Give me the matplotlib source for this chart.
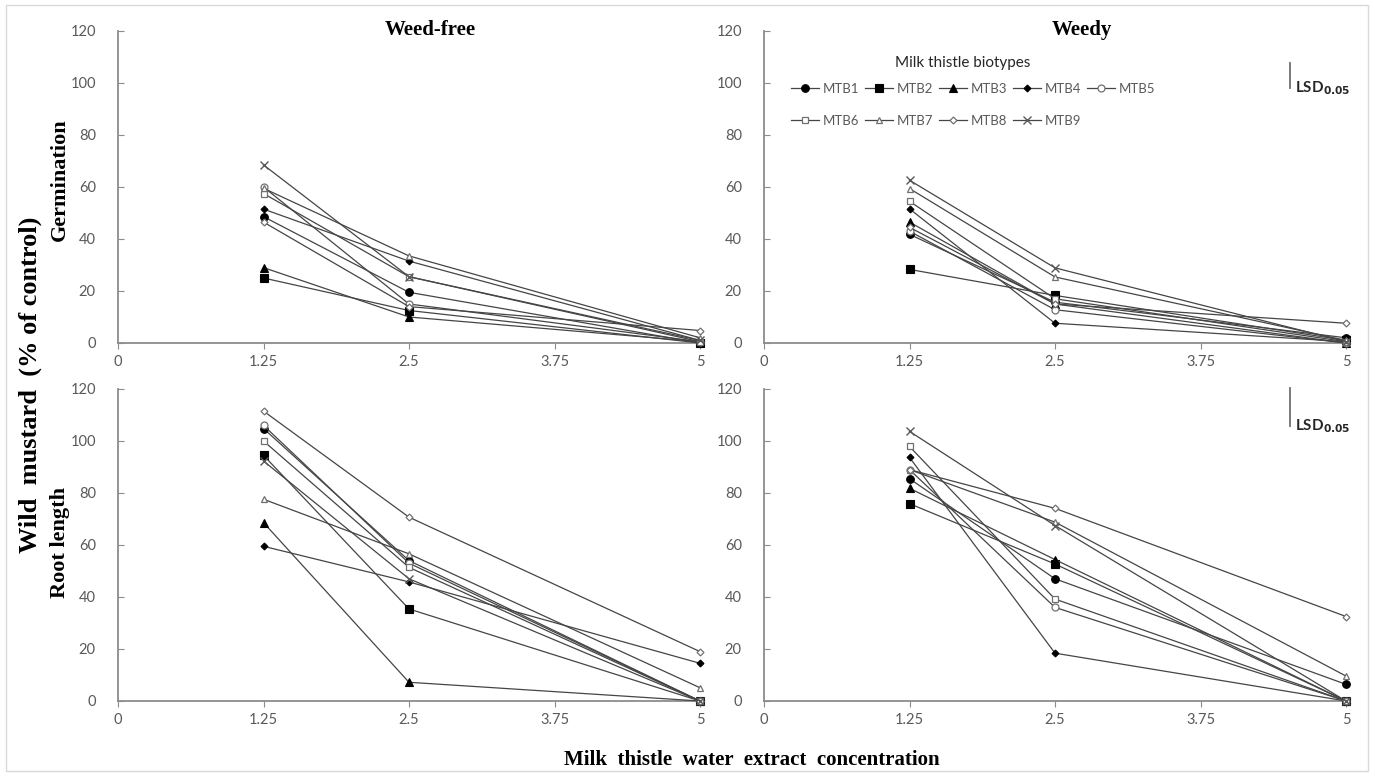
import numpy as np
import matplotlib
matplotlib.use("Agg")
import matplotlib.pyplot as plt
from matplotlib.patches import Rectangle

# concentrations (x) and biotypes
conc = [1.25, 2.5, 5]
biotypes = ["MTB1", "MTB2", "MTB3", "MTB4", "MTB5", "MTB6", "MTB7", "MTB8", "MTB9"]

# germination (% of control), weed-free
germ_free = [
    [48.6, 19.5, 0.0],
    [25.0, 12.5, 0.0],
    [29.0, 10.0, 0.5],
    [51.5, 31.5, 1.0],
    [60.0, 15.0, 0.5],
    [57.5, 25.5, 0.5],
    [59.5, 33.5, 2.0],
    [46.5, 14.0, 4.8],
    [68.5, 25.5, 1.0],
]
# germination (% of control), weedy
germ_weedy = [
    [41.8, 15.7, 2.0],
    [28.3, 18.3, 1.0],
    [46.5, 15.0, 0.0],
    [51.6, 7.6, 0.5],
    [43.0, 12.8, 0.0],
    [54.5, 17.0, 0.5],
    [59.4, 25.4, 1.0],
    [44.5, 15.0, 7.6],
    [62.6, 28.9, 0.5],
]
# root length (% of control), weed-free
root_free = [
    [104.8, 54.0, 0.0],
    [94.5, 35.4, 0.0],
    [68.6, 7.2, 0.0],
    [59.5, 45.8, 14.5],
    [106.0, 53.0, 0.0],
    [100.0, 51.4, 0.0],
    [77.6, 56.6, 5.1],
    [111.5, 70.7, 19.0],
    [92.3, 47.0, 0.0],
]
# root length (% of control), weedy
root_weedy = [
    [85.5, 47.0, 6.4],
    [75.9, 52.7, 0.0],
    [81.8, 54.4, 0.0],
    [93.7, 18.4, 0.0],
    [89.0, 36.0, 0.0],
    [97.9, 39.2, 0.0],
    [89.0, 68.8, 9.6],
    [89.0, 74.1, 32.5],
    [103.7, 67.5, 0.0],
]
# LSD 0.05 values for the weedy panels
lsd_germ = 9.6
lsd_root = 14.7

xticks = [0, 1.25, 2.5, 3.75, 5]
xtick_labels = ["0", "1.25", "2.5", "3.75", "5"]
yticks = [0, 20, 40, 60, 80, 100, 120]

# marker styles: (marker, filled, size)
styles = [("o", True, 5.5), ("s", True, 5.5), ("^", True, 5.5), ("D", True, 3.5),
          ("o", False, 5), ("s", False, 5), ("^", False, 5), ("D", False, 3.5), ("x", False, 6)]

tick_font = ["Lato", "DejaVu Sans"]
serif = "Liberation Serif"
gray_txt = "#595959"
line_col = "#454545"

fig = plt.figure(figsize=(13.75, 7.78), dpi=100)
fig.patches.append(Rectangle((0.0045, 0.009), 0.9905, 0.984, transform=fig.transFigure,
                             fill=False, edgecolor="#d9d9d9", lw=1))

W = 582 / 1375
H = 312 / 778
pos = {
    "tl": [118 / 1375, 1 - 343 / 778, W, H],
    "tr": [764 / 1375, 1 - 343 / 778, W, H],
    "bl": [118 / 1375, 1 - 701 / 778, W, H],
    "br": [764 / 1375, 1 - 701 / 778, W, H],
}
panels = {"tl": germ_free, "tr": germ_weedy, "bl": root_free, "br": root_weedy}

axes = {}
for key, data in panels.items():
    ax = fig.add_axes(pos[key])
    axes[key] = ax
    handles = []
    for name, vals, (m, filled, ms) in zip(biotypes, data, styles):
        if m == "x":
            kw = dict(mec="#595959", mew=1.0)
        elif filled:
            kw = dict(mfc="black", mec="black", mew=0.8)
        else:
            kw = dict(mfc="white", mec="#707070", mew=0.9)
        h, = ax.plot(conc, vals, color=line_col, lw=0.9, marker=m, ms=ms,
                     clip_on=False, zorder=3, label=name, **kw)
        handles.append(h)
    ax.set_xlim(0, 5)
    ax.set_ylim(0, 120)
    ax.set_xticks(xticks)
    ax.set_xticklabels(xtick_labels)
    ax.set_yticks(yticks)
    for s in ["top", "right"]:
        ax.spines[s].set_visible(False)
    for s in ["left", "bottom"]:
        ax.spines[s].set_color("#8c8c8c")
        ax.spines[s].set_linewidth(1.3)
    ax.tick_params(axis="x", direction="out", length=4, color="#8c8c8c", pad=5)
    ax.tick_params(axis="y", direction="in", length=4, color="#8c8c8c", pad=16)
    ax.tick_params(labelsize=10.5, labelcolor=gray_txt)
    for lab in ax.get_xticklabels() + ax.get_yticklabels():
        lab.set_family(tick_font)
    ax.set_facecolor("none")
    if key == "tr":
        # row-major order for a 5-column legend
        order = [0, 5, 1, 6, 2, 7, 3, 8, 4]
        leg = ax.legend(handles=[handles[i] for i in order], ncol=5, loc="upper left",
                        bbox_to_anchor=(0.035, 0.855), frameon=False, borderpad=0,
                        handlelength=2.1, handletextpad=0.3,
                        columnspacing=0.45, labelspacing=1.5,
                        prop={"family": tick_font, "size": 9.5})
        for t in leg.get_texts():
            t.set_color(gray_txt)
        ax.text(0.342, 0.898, "Milk thistle biotypes", transform=ax.transAxes,
                family=tick_font, fontsize=11, color="#262626", ha="center", va="center")

# LSD bars on the weedy panels
for key, lsd, top in [("tr", lsd_germ, 107.7), ("br", lsd_root, 120.4)]:
    ax = axes[key]
    tr = matplotlib.transforms.blended_transform_factory(ax.transAxes, ax.transData)
    ax.plot([0.903, 0.903], [top, top - lsd], color="#707070", lw=1.3,
            transform=tr, clip_on=False)
    ax.text(0.912, top - lsd, r"LSD$_{\mathbf{0.05}}$", transform=tr, fontsize=11,
            fontweight="bold", family=tick_font,
            color="#262626", va="center", ha="left")

# panel titles and labels
fig.text(430 / 1375, 1 - 30 / 778, "Weed-free", family=serif, fontweight="bold",
         fontsize=15, ha="center", va="center")
fig.text(1082 / 1375, 1 - 30 / 778, "Weedy", family=serif, fontweight="bold",
         fontsize=15, ha="center", va="center")
fig.text(60 / 1375, 1 - 180 / 778, "Germination", family=serif, fontweight="bold",
         fontsize=16, rotation=90, ha="center", va="center")
fig.text(60 / 1375, 1 - 543 / 778, "Root length", family=serif, fontweight="bold",
         fontsize=16, rotation=90, ha="center", va="center")
fig.text(30 / 1375, 1 - 385 / 778, "Wild  mustard  (% of control)", family=serif,
         fontweight="bold", fontsize=19, rotation=90, ha="center", va="center")
fig.text(752 / 1375, 1 - 760 / 778, "Milk  thistle  water  extract  concentration",
         family=serif, fontweight="bold", fontsize=15, ha="center", va="center")

fig.savefig("out.png", dpi=100)
